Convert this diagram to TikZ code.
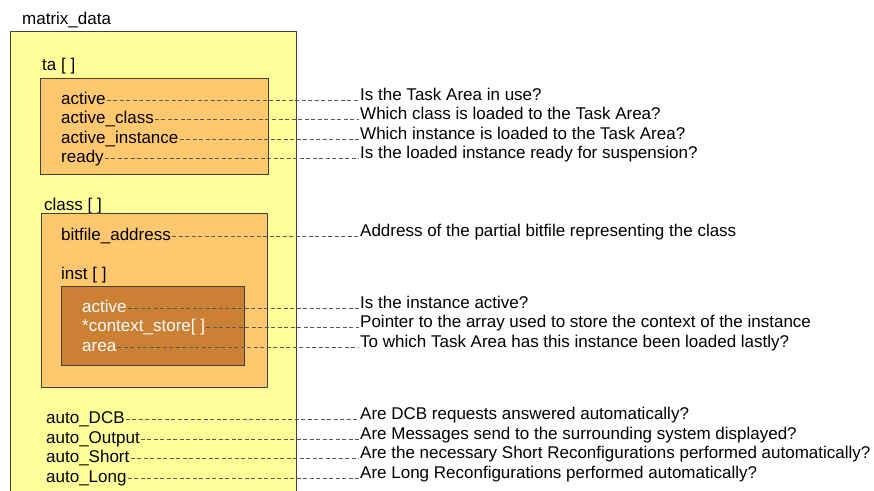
\documentclass[tikz,border=0pt]{standalone}
\usepackage{fontspec}
\setmainfont{Liberation Sans}
\usepackage{tikz}

\definecolor{dataYellow}{RGB}{255,255,153}
\definecolor{areaOrange}{RGB}{255,200,110}
\definecolor{instBrown}{RGB}{204,128,51}

\begin{document}
\begin{tikzpicture}[x=1pt, y=-1pt,
    field/.style={anchor=base west, inner sep=1pt, font=\fontsize{17}{19}\selectfont},
    note/.style={anchor=base west, inner sep=1pt, font=\fontsize{17}{19}\selectfont},
    leader/.style={draw=black!65, line width=0.75pt, dash pattern=on 4pt off 2.5pt},
    frame/.style={draw=black!75, line width=0.9pt}]
        \useasboundingbox (0,0) rectangle (874,490);
        % matrix_data block (open at the bottom)
        \fill[dataYellow] (10,31) rectangle (296,495);
        \draw[frame] (10,495) -- (10,31) -- (296,31) -- (296,495);
        \node[field] (md) at (21,24.5) {matrix\_data};
        % ta [ ] block
        \node[field] (ta) at (41,70.5) {ta [ ]};
        \filldraw[frame, fill=areaOrange] (40,78) rectangle (268,174);
        \node[field] (taA) at (60,104) {active};
        \node[field] (taC) at (60,123.5) {active\_class};
        \node[field] (taI) at (60,143) {active\_instance};
        \node[field] (taR) at (60,162.5) {ready};
        % class [ ] block with inst [ ]
        \node[field] (cl) at (43,210.5) {class [ ]};
        \filldraw[frame, fill=areaOrange] (41,213.5) rectangle (267,387);
        \node[field] (clB) at (60,240.5) {bitfile\_address};
        \node[field] (in) at (60,279) {inst [ ]};
        \filldraw[frame, fill=instBrown] (61,286) rectangle (244,365);
        \node[field, text=white] (inA) at (81,312) {active};
        \node[field, text=white] (inC) at (81,331.5) {*context\_store[ ]};
        \node[field, text=white] (inR) at (81,351) {area};
        % auto flags
        \node[field] (auD) at (45,423.5) {auto\_DCB};
        \node[field] (auO) at (45,443) {auto\_Output};
        \node[field] (auS) at (45,462.5) {auto\_Short};
        \node[field] (auL) at (45,482) {auto\_Long};
        % explanations on the right
        \node[note] (nA) at (359,100) {Is the Task Area in use?};
        \node[note] (nC) at (359,119.5) {Which class is loaded to the Task Area?};
        \node[note] (nI) at (359,139) {Which instance is loaded to the Task Area?};
        \node[note] (nR) at (359,158.5) {Is the loaded instance ready for suspension?};
        \node[note] (nB) at (359,236.5) {Address of the partial bitfile representing the class};
        \node[note] (nIA) at (359,308) {Is the instance active?};
        \node[note] (nIC) at (359,327.5) {Pointer to the array used to store the context of the instance};
        \node[note] (nIR) at (359,347) {To which Task Area has this instance been loaded lastly?};
        \node[note] (nD) at (359,419.5) {Are DCB requests answered automatically?};
        \node[note] (nO) at (359,439) {Are Messages send to the surrounding system displayed?};
        \node[note] (nS) at (359,458.5) {Are the necessary Short Reconfigurations performed automatically?};
        \node[note] (nL) at (359,478) {Are Long Reconfigurations performed automatically?};
        % dashed leaders
        \draw[leader] ([yshift=4pt]taA.base east) -- (nA.base west);
        \draw[leader] ([yshift=4pt]taC.base east) -- (nC.base west);
        \draw[leader] ([yshift=4pt]taI.base east) -- (nI.base west);
        \draw[leader] ([yshift=4pt]taR.base east) -- (nR.base west);
        \draw[leader] ([yshift=4pt]clB.base east) -- (nB.base west);
        \draw[leader] ([yshift=4pt]inA.base east) -- (nIA.base west);
        \draw[leader] ([yshift=4pt]inC.base east) -- (nIC.base west);
        \draw[leader] ([yshift=4pt]inR.base east) -- (nIR.base west);
        \draw[leader] ([yshift=4pt]auD.base east) -- (nD.base west);
        \draw[leader] ([yshift=4pt]auO.base east) -- (nO.base west);
        \draw[leader] ([yshift=4pt]auS.base east) -- (nS.base west);
        \draw[leader] ([yshift=4pt]auL.base east) -- (nL.base west);
\end{tikzpicture}
\end{document}
